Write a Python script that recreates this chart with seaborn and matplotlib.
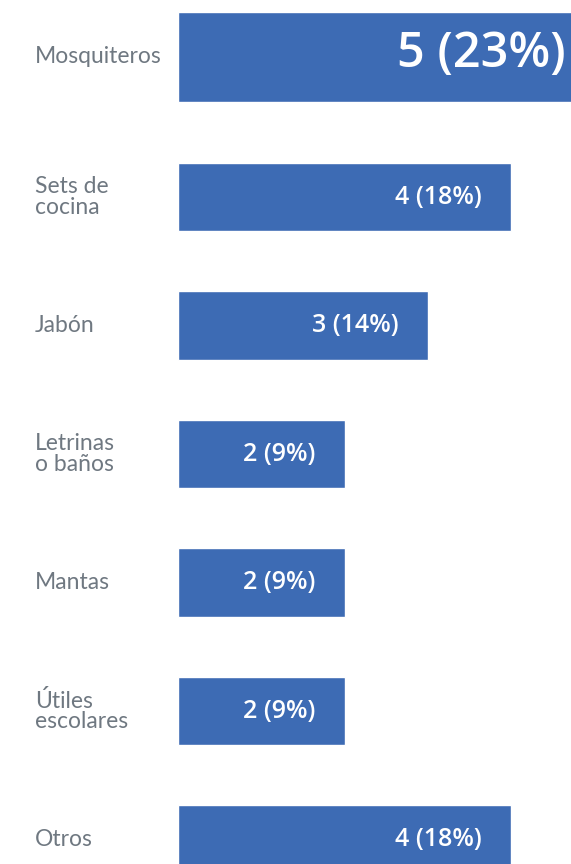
import matplotlib
matplotlib.use("Agg")
import matplotlib.pyplot as plt
import matplotlib.transforms as mtransforms
import seaborn as sns
import pandas as pd

# data
categorias = ["Mosquiteros", "Sets de\ncocina", "Jabón", "Letrinas\no baños",
              "Mantas", "Útiles\nescolares", "Otros"]
valores = [5, 4, 3, 2, 2, 2, 4]
porcentajes = [23, 18, 14, 9, 9, 9, 18]

df = pd.DataFrame({"categoria": categorias, "valor": valores})

sns.set_style("white")
plt.rcParams["font.family"] = ["Lato", "DejaVu Sans"]

fig = plt.figure(figsize=(5.71, 8.64), dpi=100)
ax = fig.add_axes([178 / 571, 0, 1 - 178 / 571, 1])

azul = "#3D6BB4"
sns.barplot(data=df, x="valor", y="categoria", color=azul, width=0.533,
            saturation=1, ax=ax, orient="h")

# first bar is drawn taller (highlight)
p0 = ax.patches[0]
p0.set_y(-0.44)
p0.set_height(0.70)

ax.set_xlim(0, 393 / 83.3)
ax.set_ylim(6.19, -0.533)
ax.set_xlabel("")
ax.set_ylabel("")
ax.set_xticks([])
ax.set_yticks([])
for s in ax.spines.values():
    s.set_visible(False)

trans = mtransforms.blended_transform_factory(fig.transFigure, ax.transData)
for i, (cat, v, pct) in enumerate(zip(categorias, valores, porcentajes)):
    yc = -0.09 if i == 0 else i
    ax.text(35 / 571, yc, cat, transform=trans, ha="left", va="center",
            fontsize=16.5, color="#6f7881", linespacing=0.95)
    ax.annotate(f"{v} ({pct}%)", xy=(v, yc), xytext=(-29, 2 if i == 0 else 0),
                textcoords="offset pixels", ha="right", va="center",
                color="white", fontweight="semibold", family="Open Sans",
                fontsize=35 if i == 0 else 18, annotation_clip=False)

fig.savefig("out.png", dpi=100)
